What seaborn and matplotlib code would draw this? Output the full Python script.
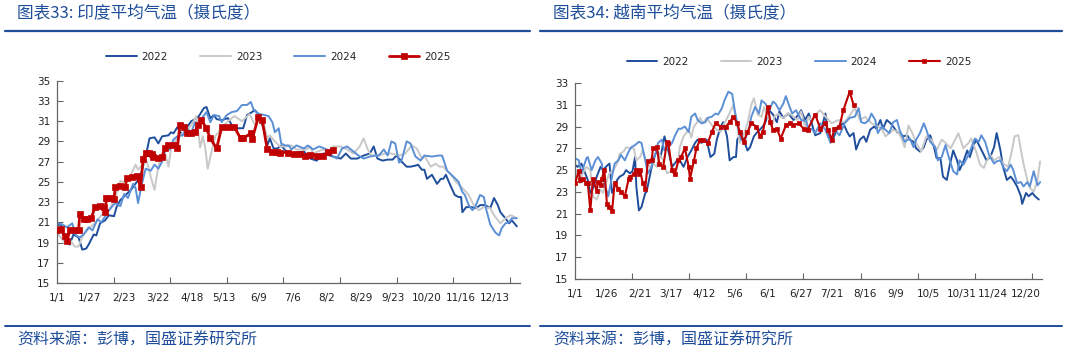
import numpy as np
import pandas as pd
import seaborn as sns
import matplotlib
matplotlib.use("Agg")
from matplotlib import pyplot as plt
from matplotlib.lines import Line2D

# daily mean temperature (deg C) as (day of year, value)
india_2022 = [(0, 20.7), (3, 20.8), (7, 19.2), (10, 18.8), (13, 19.8), (17, 19.5), (20, 18.3), (23, 18.4), (25, 18.8),
              (29, 19.8), (31, 19.7), (34, 20.9), (38, 21.2), (41, 21.7), (45, 21.6), (47, 22.5), (50, 23.2), (55, 23.8),
              (59, 24.3), (63, 25.0), (66, 25.6), (68, 26.6), (71, 28.1), (73, 29.3), (77, 29.4), (80, 28.8), (83, 29.5),
              (88, 29.6), (90, 29.9), (92, 29.8), (95, 30.4), (99, 29.6), (102, 30.3), (106, 31.0), (109, 31.2),
              (112, 31.5), (116, 32.3), (118, 32.4), (121, 31.3), (124, 31.6), (126, 31.2), (130, 31.1), (135, 31.3),
              (138, 30.6), (142, 30.3), (147, 30.3), (150, 31.6), (154, 31.9), (156, 32.1), (159, 31.7), (163, 30.3),
              (166, 28.6), (168, 29.3), (171, 28.3), (174, 28.3), (177, 28.6), (181, 28.0), (185, 27.8), (189, 27.9),
              (195, 28.0), (200, 27.3), (205, 27.1), (210, 27.8), (218, 27.5), (224, 27.3), (228, 27.8), (232, 27.3),
              (237, 27.3), (242, 27.6), (247, 27.8), (250, 28.5), (253, 27.3), (257, 27.1), (261, 27.2), (265, 27.2),
              (268, 27.6), (272, 27.0), (276, 26.5), (279, 26.5), (283, 26.6), (285, 26.7), (288, 26.2), (290, 26.2),
              (292, 25.3), (296, 25.7), (300, 24.8), (303, 25.3), (305, 25.3), (307, 25.7), (310, 24.8), (314, 23.7),
              (317, 23.5), (319, 23.5), (320, 22.0), (323, 22.5), (327, 22.5), (331, 22.4), (334, 22.7), (338, 22.7),
              (342, 22.4), (345, 23.4), (348, 22.7), (350, 22.0), (354, 21.4), (357, 20.9), (359, 21.2), (363, 20.6)]
india_2023 = [(0, 20.0), (3, 19.5), (6, 19.0), (10, 19.3), (14, 18.6), (17, 18.6), (20, 19.6), (25, 20.4), (30, 20.9),
              (35, 21.7), (41, 22.2), (46, 23.4), (50, 25.1), (54, 24.9), (58, 25.6), (62, 26.7), (64, 26.2), (68, 26.8),
              (71, 27.0), (74, 25.5), (77, 24.2), (80, 26.5), (82, 27.5), (85, 28.0), (88, 26.5), (90, 28.3), (93, 29.0),
              (97, 29.6), (103, 30.1), (107, 30.8), (110, 31.5), (113, 28.4), (115, 29.5), (117, 28.4), (119, 26.3),
              (122, 28.0), (125, 29.5), (131, 30.5), (135, 31.0), (140, 31.5), (146, 31.0), (152, 31.7), (156, 30.7),
              (160, 31.5), (163, 30.8), (166, 29.3), (168, 29.6), (172, 29.0), (176, 28.5), (181, 28.5), (185, 28.6),
              (189, 28.2), (197, 28.2), (200, 28.5), (202, 27.8), (210, 28.2), (214, 28.0), (218, 28.5), (224, 28.5),
              (229, 28.2), (234, 27.8), (239, 28.5), (242, 29.3), (245, 28.3), (248, 27.6), (254, 27.6), (259, 27.8),
              (264, 27.8), (270, 27.6), (275, 27.8), (280, 28.6), (284, 28.3), (288, 27.3), (290, 27.6), (295, 26.5),
              (299, 26.8), (302, 26.5), (305, 26.5), (307, 26.2), (311, 25.7), (315, 25.0), (319, 24.5), (323, 24.0),
              (325, 23.7), (329, 22.7), (333, 22.2), (337, 22.5), (342, 22.4), (345, 21.7), (350, 20.9), (354, 21.4),
              (358, 21.7), (360, 21.6), (363, 21.4)]
india_2024 = [(0, 20.9), (4, 20.8), (8, 20.5), (12, 20.9), (15, 19.7), (18, 19.5), (21, 19.8), (25, 20.5), (28, 20.2),
              (32, 21.3), (35, 21.0), (40, 22.0), (43, 22.5), (46, 22.9), (50, 22.6), (53, 23.8), (56, 23.4), (60, 24.8),
              (62, 24.4), (64, 22.9), (67, 24.8), (70, 26.3), (74, 26.1), (77, 26.7), (80, 26.3), (83, 27.0), (86, 28.4),
              (89, 28.2), (92, 29.2), (95, 29.5), (99, 29.6), (103, 30.2), (106, 29.9), (109, 30.9), (112, 30.4),
              (115, 31.4), (118, 31.9), (121, 30.9), (124, 31.6), (128, 31.5), (130, 30.9), (134, 31.6), (138, 31.9),
              (142, 32.0), (146, 32.6), (150, 32.6), (153, 32.9), (155, 32.2), (158, 31.8), (160, 31.7), (164, 31.6),
              (167, 31.5), (170, 30.9), (172, 29.9), (175, 30.3), (177, 28.8), (180, 28.6), (183, 28.6), (185, 28.2),
              (189, 28.6), (195, 28.3), (198, 28.6), (202, 28.2), (207, 28.5), (213, 28.2), (217, 27.6), (221, 27.3),
              (225, 28.3), (229, 28.5), (234, 28.0), (238, 27.6), (242, 27.3), (247, 27.5), (251, 27.6), (254, 27.6),
              (258, 28.2), (261, 27.6), (264, 29.0), (267, 28.8), (270, 26.9), (272, 27.1), (276, 29.0), (279, 28.8),
              (283, 27.5), (287, 27.1), (290, 27.6), (296, 27.5), (301, 27.6), (304, 27.6), (308, 26.1), (313, 25.5),
              (317, 25.0), (320, 24.0), (322, 23.7), (325, 22.7), (328, 22.2), (330, 22.5), (334, 23.7), (337, 23.5),
              (339, 22.2), (342, 20.8), (346, 20.0), (349, 19.7), (351, 20.4), (354, 20.9), (357, 21.0), (359, 21.4),
              (363, 21.4)]
india_2025 = [(0, 20.2), (3, 20.3), (6, 19.6), (8, 19.2), (10, 20.2), (14, 20.2), (17, 20.2), (18, 21.8), (21, 21.3),
              (24, 21.3), (27, 21.4), (30, 22.5), (34, 22.6), (37, 22.5), (38, 22.0), (39, 23.4), (42, 23.4), (45, 23.3),
              (46, 24.5), (50, 24.6), (54, 24.5), (55, 25.4), (59, 25.5), (63, 25.6), (66, 24.5), (68, 27.3), (70, 27.9),
              (73, 27.9), (75, 27.8), (76, 27.5), (80, 27.4), (83, 27.5), (85, 28.3), (88, 28.6), (92, 28.6), (95, 28.3),
              (97, 30.6), (100, 30.4), (103, 29.8), (106, 29.8), (109, 29.9), (111, 30.6), (114, 31.1), (118, 30.3),
              (121, 29.3), (126, 28.3), (130, 30.4), (135, 30.4), (140, 30.4), (145, 29.3), (147, 29.3), (153, 29.8),
              (154, 29.2), (159, 31.4), (162, 31.1), (166, 28.2), (170, 28.0), (174, 28.0), (176, 27.9), (182, 27.9),
              (187, 27.8), (192, 27.8), (196, 27.6), (200, 27.7), (205, 27.6), (210, 27.6), (214, 28.0), (218, 28.1)]

vietnam_2022 = [(0, 25.5), (2, 25.3), (5, 25.6), (7, 25.0), (10, 24.1), (12, 22.9), (14, 23.3), (17, 24.4), (20, 25.3),
                (22, 25.0), (25, 25.4), (27, 25.6), (29, 22.9), (31, 23.5), (33, 24.1), (35, 24.4), (38, 24.6), (40, 25.0),
                (43, 24.7), (45, 24.9), (47, 26.2), (48, 23.5), (50, 21.3), (52, 21.6), (55, 22.9), (56, 23.0), (59, 24.7),
                (61, 25.9), (64, 26.8), (67, 26.2), (69, 27.5), (70, 28.1), (73, 26.8), (76, 25.3), (80, 25.9), (82, 25.9),
                (85, 25.3), (88, 26.2), (91, 26.8), (94, 27.5), (96, 27.8), (99, 27.5), (103, 27.8), (106, 26.2),
                (109, 26.5), (111, 27.8), (114, 29.0), (116, 29.4), (119, 28.1), (121, 25.9), (124, 26.2), (126, 26.2),
                (127, 27.8), (130, 28.4), (133, 27.5), (135, 26.8), (137, 27.1), (140, 28.1), (142, 28.4), (147, 29.0),
                (149, 29.4), (152, 30.5), (155, 30.1), (158, 29.4), (160, 30.4), (163, 29.8), (167, 30.2), (171, 29.6),
                (175, 30.1), (177, 30.5), (180, 29.6), (183, 30.2), (186, 29.0), (188, 28.2), (192, 28.4), (196, 30.2),
                (198, 28.1), (202, 27.9), (206, 29.0), (210, 29.3), (213, 28.5), (215, 28.1), (218, 28.4), (220, 26.9),
                (223, 27.8), (226, 28.1), (228, 27.6), (231, 28.7), (234, 29.0), (236, 28.8), (239, 29.6), (241, 28.8),
                (244, 29.6), (247, 29.3), (249, 29.0), (252, 28.5), (254, 28.4), (257, 28.1), (260, 28.2), (262, 27.8),
                (265, 27.6), (267, 27.0), (270, 26.7), (273, 27.1), (275, 27.8), (278, 28.2), (281, 27.1), (283, 26.1),
                (286, 26.1), (288, 24.4), (291, 24.1), (293, 25.3), (296, 26.8), (299, 25.9), (301, 25.0), (304, 25.8),
                (307, 26.8), (309, 26.2), (312, 27.3), (314, 27.8), (317, 27.1), (320, 26.4), (322, 25.9), (325, 26.2),
                (328, 27.1), (330, 28.4), (333, 26.8), (335, 25.3), (338, 24.1), (341, 24.4), (343, 24.1), (346, 23.5),
                (349, 22.6), (350, 21.9), (353, 22.9), (355, 22.6), (358, 22.9), (360, 22.6), (363, 22.3)]
vietnam_2023 = [(0, 24.1), (1, 25.0), (4, 23.8), (6, 24.7), (9, 25.3), (12, 25.0), (14, 22.6), (17, 22.3), (20, 23.2),
                (22, 22.9), (25, 24.1), (27, 24.7), (30, 25.0), (33, 25.6), (35, 26.5), (38, 26.7), (40, 27.1), (43, 27.0),
                (46, 27.0), (48, 25.9), (51, 26.2), (53, 26.8), (56, 25.6), (59, 25.3), (61, 25.6), (64, 25.3), (66, 26.5),
                (69, 25.9), (72, 24.7), (75, 24.9), (78, 24.6), (80, 25.3), (82, 27.1), (85, 28.1), (89, 28.7), (91, 28.0),
                (93, 29.0), (95, 29.3), (98, 29.8), (100, 29.3), (103, 29.8), (106, 29.3), (108, 29.0), (111, 28.7),
                (114, 28.5), (116, 29.1), (120, 30.0), (122, 30.5), (124, 31.0), (127, 29.0), (129, 27.5), (132, 28.2),
                (135, 29.3), (138, 31.0), (140, 31.6), (143, 30.1), (146, 29.9), (148, 30.8), (151, 29.9), (154, 29.0),
                (156, 29.9), (159, 30.2), (161, 29.9), (164, 29.8), (166, 30.2), (169, 30.1), (174, 29.6), (177, 30.4),
                (180, 29.0), (183, 29.9), (185, 29.6), (188, 30.1), (192, 30.5), (196, 29.9), (201, 29.3), (206, 29.6),
                (211, 29.4), (216, 30.2), (219, 30.7), (223, 29.6), (227, 29.9), (232, 29.3), (236, 29.1), (240, 28.8),
                (243, 28.1), (246, 28.4), (249, 28.7), (253, 28.5), (256, 27.8), (258, 27.1), (261, 29.1), (264, 28.4),
                (267, 27.5), (271, 26.7), (275, 28.1), (279, 27.8), (283, 26.8), (287, 27.8), (290, 27.5), (294, 27.0),
                (298, 27.9), (300, 28.4), (304, 27.0), (308, 27.5), (310, 27.9), (314, 26.7), (317, 25.5), (320, 25.2),
                (322, 25.8), (325, 26.4), (328, 25.9), (332, 26.2), (335, 25.6), (339, 25.3), (342, 26.8), (344, 28.1),
                (347, 28.2), (348, 27.5), (351, 25.6), (354, 24.1), (356, 23.4), (359, 23.0), (362, 24.1), (364, 25.8)]
vietnam_2024 = [(0, 26.1), (3, 25.9), (5, 24.7), (9, 26.1), (10, 26.2), (13, 25.0), (16, 25.9), (18, 26.2), (21, 25.6),
                (23, 23.8), (26, 22.6), (29, 24.4), (31, 25.6), (34, 25.9), (36, 26.4), (39, 25.9), (42, 26.7), (44, 27.1),
                (47, 27.3), (50, 27.6), (52, 27.5), (55, 25.9), (57, 24.7), (60, 25.3), (63, 26.5), (65, 27.5), (68, 27.8),
                (70, 26.8), (73, 27.1), (76, 27.5), (78, 28.1), (81, 28.8), (83, 28.8), (86, 29.0), (89, 28.5), (91, 29.9),
                (94, 30.2), (96, 29.6), (99, 29.3), (102, 29.4), (104, 29.8), (107, 29.9), (110, 30.2), (112, 30.1),
                (115, 30.7), (117, 31.4), (120, 32.2), (123, 32.0), (125, 30.5), (128, 28.7), (130, 27.8), (133, 27.8),
                (136, 28.7), (138, 29.9), (141, 30.8), (144, 30.2), (146, 31.4), (149, 31.1), (152, 30.5), (155, 31.3),
                (157, 31.1), (160, 30.5), (163, 31.1), (165, 31.8), (168, 30.8), (170, 30.2), (173, 30.5), (177, 29.6),
                (181, 29.5), (183, 28.6), (185, 28.8), (188, 28.4), (192, 29.3), (196, 28.7), (200, 27.5), (203, 28.7),
                (207, 28.2), (211, 29.3), (215, 29.8), (219, 29.9), (222, 30.7), (224, 29.4), (227, 29.3), (230, 29.6),
                (232, 30.2), (235, 29.6), (237, 28.4), (240, 29.0), (243, 28.7), (246, 28.4), (249, 29.4), (252, 29.6),
                (254, 28.7), (258, 27.6), (262, 27.9), (265, 27.1), (267, 27.8), (270, 28.4), (273, 29.3), (275, 28.7),
                (278, 27.6), (282, 27.1), (284, 25.9), (287, 26.2), (290, 27.3), (292, 26.4), (296, 24.9), (299, 24.6),
                (301, 25.9), (304, 25.5), (308, 26.4), (311, 27.3), (313, 27.9), (316, 27.6), (318, 28.2), (321, 27.6),
                (324, 26.4), (328, 25.6), (330, 25.8), (333, 25.9), (335, 25.3), (338, 24.9), (341, 25.5), (343, 25.0),
                (346, 23.8), (349, 23.9), (351, 23.5), (354, 23.9), (356, 23.5), (359, 24.9), (362, 23.6), (364, 23.9)]
vietnam_2025 = [(0, 23.8), (3, 24.9), (4, 24.1), (6, 24.2), (9, 23.8), (10, 23.8), (12, 21.3), (14, 24.2), (17, 23.1),
                (18, 23.9), (20, 23.6), (21, 24.2), (23, 25.0), (25, 21.9), (27, 21.6), (29, 21.2), (31, 23.8), (34, 23.3),
                (36, 23.0), (39, 22.6), (42, 24.2), (43, 24.4), (46, 24.6), (48, 25.0), (50, 24.6), (51, 25.0), (53, 23.8),
                (55, 23.3), (57, 25.8), (60, 25.9), (61, 27.0), (64, 27.1), (66, 25.6), (69, 25.3), (72, 27.6), (73, 27.5),
                (76, 25.0), (78, 24.6), (81, 25.9), (83, 26.2), (86, 27.0), (89, 25.3), (90, 24.2), (93, 25.8), (95, 27.0),
                (98, 27.8), (100, 27.8), (104, 27.5), (107, 28.5), (110, 29.3), (114, 29.0), (118, 29.0), (121, 29.4),
                (124, 29.9), (127, 29.3), (129, 28.5), (132, 27.6), (135, 28.5), (138, 29.3), (142, 29.0), (145, 28.1),
                (147, 28.5), (151, 30.8), (153, 29.4), (155, 28.7), (158, 28.8), (161, 27.9), (165, 29.1), (168, 29.3),
                (171, 29.1), (175, 29.3), (179, 28.8), (182, 28.7), (188, 30.1), (192, 28.8), (196, 29.3), (198, 28.7),
                (201, 27.8), (203, 28.8), (207, 29.0), (210, 30.5), (215, 32.2), (218, 31.0)]

years = ["2022", "2023", "2024", "2025"]
india_ticks = ["1/1", "1/27", "2/23", "3/22", "4/18", "5/13", "6/9", "7/6", "8/2", "8/29", "9/23", "10/20", "11/16", "12/13"]
vietnam_ticks = ["1/1", "1/26", "2/21", "3/17", "4/12", "5/6", "6/1", "6/27", "7/21", "8/16", "9/9", "10/5", "10/31",
                 "11/24", "12/20"]

colors = {"2022": "#1f4e9c", "2023": "#c8c8c8", "2024": "#5b8fd6", "2025": "#c00000"}
blue = "#1f4e9a"

sns.set_theme(style="white")
plt.rcParams["font.family"] = ["DejaVu Sans", "Noto Sans CJK SC"]
cjk = ["Noto Sans CJK SC", "DejaVu Sans"]

fig = plt.figure(figsize=(10.66, 3.54), dpi=100)
ax1 = fig.add_axes([57 / 1066, 71 / 354, 463 / 1066, 202.3 / 354])
ax2 = fig.add_axes([575 / 1066, 75 / 354, 467 / 1066, 196 / 354])


def draw(ax, series, big_marker):
    for year, pts in zip(years, series):
        df = pd.DataFrame(pts, columns=["day", "temp"])
        if year == "2025":
            sns.lineplot(data=df, x="day", y="temp", ax=ax, color=colors[year], label=year, errorbar=None,
                         lw=2.0 if big_marker else 1.5, marker="s", markersize=4.2 if big_marker else 3,
                         markeredgecolor=colors[year], markeredgewidth=0.5, zorder=5)
        else:
            sns.lineplot(data=df, x="day", y="temp", ax=ax, color=colors[year], label=year, errorbar=None, lw=1.4)


def style(ax, ymax, ticklabels, legend_xy):
    ax.set_xlim(0, 365.5)
    ax.set_ylim(15, ymax)
    ax.set_yticks(np.arange(15, ymax + 1, 2))
    pos = [pd.to_datetime("2025/" + t, format="%Y/%m/%d").dayofyear - 1 for t in ticklabels]
    ax.set_xticks(pos, ticklabels)
    ax.set_xticks(np.arange(0, 365, 44.7), minor=True)
    ax.tick_params(axis="x", which="major", length=0, pad=7, labelsize=7.5, colors="#222222")
    ax.tick_params(axis="x", which="minor", direction="in", length=4, width=0.8, color="#666666", bottom=True)
    ax.tick_params(axis="y", direction="in", length=4, width=0.8, color="#666666", pad=5, labelsize=7.5,
                   labelcolor="#222222", left=True)
    for s in ["top", "right"]:
        ax.spines[s].set_visible(False)
    for s in ["left", "bottom"]:
        ax.spines[s].set_color("#666666")
        ax.spines[s].set_linewidth(0.9)
    ax.set_xlabel("")
    ax.set_ylabel("")
    ax.legend(loc="center", bbox_to_anchor=legend_xy, ncol=4, frameon=False, fontsize=7.5,
              handlelength=2.9, handletextpad=0.5, columnspacing=3.1)


draw(ax1, [india_2022, india_2023, india_2024, india_2025], True)
draw(ax2, [vietnam_2022, vietnam_2023, vietnam_2024, vietnam_2025], False)
style(ax1, 35, india_ticks, (0.478, 1.117))
style(ax2, 33, vietnam_ticks, (0.48, 1.107))

# titles, rules and sources
fig.text(17 / 1066, 1 - 14 / 354, "图表33: 印度平均气温（摄氏度）", family=cjk, fontsize=12, color=blue, va="center")
fig.text(553 / 1066, 1 - 14 / 354, "图表34: 越南平均气温（摄氏度）", family=cjk, fontsize=12, color=blue, va="center")
fig.text(17 / 1066, 1 - 340 / 354, "资料来源：彭博，国盛证券研究所", family=cjk, fontsize=11.5, color=blue, va="center")
fig.text(553 / 1066, 1 - 340 / 354, "资料来源：彭博，国盛证券研究所", family=cjk, fontsize=11.5, color=blue, va="center")
for x0, x1 in [(5, 530), (540, 1062)]:
    fig.add_artist(Line2D([x0 / 1066, x1 / 1066], [1 - 31 / 354] * 2, color=blue, lw=1.6))
    fig.add_artist(Line2D([x0 / 1066, x1 / 1066], [1 - 326 / 354] * 2, color=blue, lw=1.4))

plt.savefig("out.png", dpi=100)
